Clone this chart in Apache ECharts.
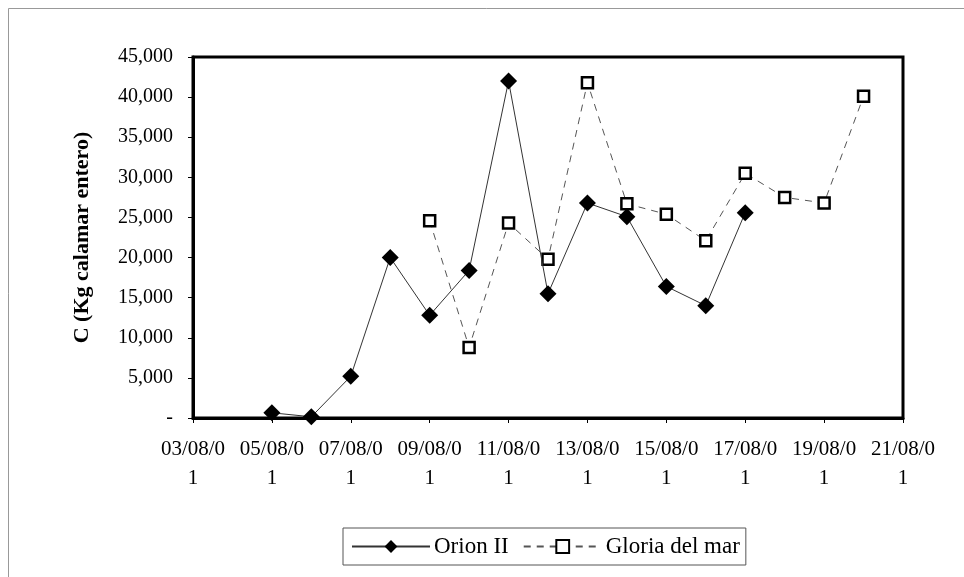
<!DOCTYPE html>
<html>
<head>
<meta charset="utf-8">
<script src="https://cdn.jsdelivr.net/npm/echarts@6/dist/echarts.min.js"></script>
<style>html,body{margin:0;padding:0;background:#fff;}#c{width:964px;height:577px;}</style>
</head>
<body>
<div id="c"></div>
<script>
const orionDates = ["05/08/01","06/08/01","07/08/01","08/08/01","09/08/01","10/08/01","11/08/01","12/08/01","13/08/01","14/08/01","15/08/01","16/08/01","17/08/01"];
const orionValues = [650, 150, 5200, 20000, 12800, 18400, 42000, 15500, 26800, 25100, 16400, 14000, 25600];
const gloriaDates = ["09/08/01","10/08/01","11/08/01","12/08/01","13/08/01","14/08/01","15/08/01","16/08/01","17/08/01","18/08/01","19/08/01","20/08/01"];
const gloriaValues = [24600, 8800, 24300, 19800, 41800, 26700, 25400, 22100, 30500, 27500, 26800, 40100];
const xTickDays = [3,5,7,9,11,13,15,17,19,21];
const seriesNames = ["Orion II", "Gloria del mar"];
const yAxisTitle = "C (Kg calamar entero)";

function dayOf(s){ return parseInt(s.split("/")[0], 10); }
function pad(n){ return (n < 10 ? "0" : "") + n; }

const chart = echarts.init(document.getElementById('c'), null, {renderer: 'canvas'});
const serif = "'Liberation Serif', 'DejaVu Serif', serif";
chart.setOption({
  animation: false,
  backgroundColor: '#fff',
  graphic: [{
    type: 'rect', left: 6, top: 6,
    shape: {width: 1000, height: 600},
    style: {fill: 'none', stroke: '#999', lineWidth: 1}
  }],
  grid: {left: 193, right: 61, top: 57, bottom: 159, show: true, borderColor: '#000', borderWidth: 3, backgroundColor: 'transparent'},
  legend: {
    left: 343, top: 528,
    padding: [7, 6, 7, 8],
    borderColor: '#555', borderWidth: 1,
    itemWidth: 78, itemHeight: 16, itemGap: 14,
    textStyle: {fontFamily: serif, fontSize: 23, color: '#000', padding: [0, 0, 0, -1]},
    data: seriesNames
  },
  xAxis: {
    type: 'value', min: xTickDays[0], max: xTickDays[xTickDays.length-1], interval: 2,
    axisLine: {show: true, lineStyle: {color: '#000', width: 3}},
    axisTick: {show: true, length: 5, lineStyle: {color: '#000', width: 1}},
    splitLine: {show: false},
    axisLabel: {
      margin: 17, fontFamily: serif, fontSize: 21, color: '#000', lineHeight: 29,
      formatter: function(v){ return pad(v) + "/08/0\n1"; }
    }
  },
  yAxis: {
    type: 'value', min: 0, max: 45000, interval: 5000,
    name: yAxisTitle, nameLocation: 'middle', nameGap: 100, nameRotate: 90,
    nameTextStyle: {fontFamily: serif, fontSize: 22, fontWeight: 'bold', color: '#000'},
    axisLine: {show: true, lineStyle: {color: '#000', width: 3}},
    axisTick: {show: true, length: 5, lineStyle: {color: '#000', width: 1}},
    splitLine: {show: false},
    axisLabel: {
      margin: 20, fontFamily: serif, fontSize: 20, color: '#000',
      formatter: function(v){ return v === 0 ? "-" : v.toLocaleString('en-US'); }
    }
  },
  series: [
    {
      name: seriesNames[0], type: 'line',
      data: orionDates.map((d,i)=>[dayOf(d), orionValues[i]]),
      symbol: 'diamond', symbolSize: [17, 17],
      itemStyle: {color: '#000'},
      lineStyle: {color: '#333', width: 1, type: 'solid'},
      z: 3
    },
    {
      name: seriesNames[1], type: 'line',
      data: gloriaDates.map((d,i)=>[dayOf(d), gloriaValues[i]]),
      symbol: 'rect', symbolSize: 11,
      itemStyle: {color: '#fff', borderColor: '#000', borderWidth: 2.5},
      lineStyle: {color: '#555', width: 1, type: [7, 6]},
      z: 2
    }
  ]
});
</script>
</body>
</html>
